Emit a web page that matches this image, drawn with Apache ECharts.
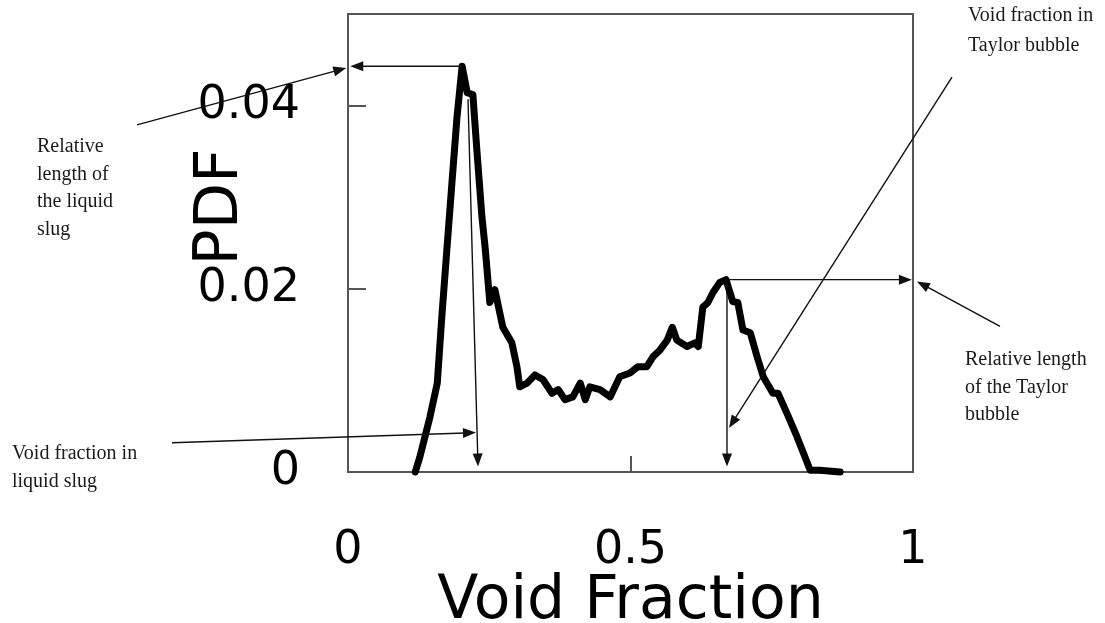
<!DOCTYPE html>
<html><head><meta charset="utf-8">
<script src="https://cdn.jsdelivr.net/npm/echarts@6/dist/echarts.min.js"></script>
<style>html,body{margin:0;padding:0;background:#fff}#c{width:1105px;height:623px}</style>
</head><body><div id="c"></div>
<script>
// Void fraction (x) and PDF (y)
const voidFraction = [0.119,0.127,0.145,0.158,0.166,0.175,0.184,0.193,0.202,0.211,0.221,0.228,0.237,0.243,0.251,0.260,0.274,0.290,0.299,0.304,0.317,0.331,0.345,0.361,0.372,0.384,0.398,0.411,0.420,0.428,0.446,0.464,0.481,0.499,0.513,0.529,0.540,0.552,0.565,0.574,0.582,0.600,0.614,0.620,0.628,0.637,0.646,0.658,0.669,0.681,0.690,0.699,0.712,0.724,0.735,0.752,0.761,0.777,0.795,0.809,0.818,0.835,0.871];
const pdf = [0,0.0016,0.0060,0.0097,0.0169,0.0243,0.0316,0.0388,0.0443,0.0414,0.0412,0.0352,0.0279,0.0243,0.0185,0.0199,0.0158,0.0141,0.0115,0.0093,0.0097,0.0106,0.0101,0.0086,0.0090,0.0079,0.0082,0.0097,0.0079,0.0093,0.0090,0.0082,0.0104,0.0108,0.0115,0.0115,0.0126,0.0133,0.0144,0.0158,0.0144,0.0137,0.0141,0.0137,0.0180,0.0185,0.0196,0.0207,0.0210,0.0186,0.0185,0.0155,0.0152,0.0126,0.0104,0.0086,0.0086,0.0064,0.0038,0.0016,0.0002,0.0002,0];
const xTickLabels = ['0','0.5','1'];
const yTickLabels = ['0','0.02','0.04'];

// annotation arrows: [from, to] in data coordinates (may extend beyond the plot)
const arrowFrom = [[0.2018,0.0443],[-0.3735,0.0379],[0.2124,0.0407],[-0.3115,0.0032],[0.6708,0.0210],[1.154,0.0159],[0.6708,0.0210],[1.069,0.0431]];
const arrowTo   = [[0.004,0.0443],[-0.003,0.0441],[0.2301,0.0006],[0.2265,0.0043],[0.998,0.0210],[1.007,0.0208],[0.6708,0.0006],[0.6743,0.0048]];
const noteTexts = ['Relative\nlength of\nthe liquid\nslug','Void fraction in\nliquid slug','Void fraction in\nTaylor bubble','Relative length\nof the Taylor\nbubble'];

const chart = echarts.init(document.getElementById('c'));
const axisColor = '#555';
const option = {
  animation: false,
  grid: {left: 348, top: 14, right: 192, bottom: 151, show: true, borderColor: axisColor, borderWidth: 2,
    containLabel: false, outerBoundsMode: 'none'},
  xAxis: {
    type: 'value', min: 0, max: 1, interval: 0.5,
    name: 'Void Fraction', nameLocation: 'middle', nameGap: 100, nameMoveOverlap: false,
    nameTextStyle: {fontFamily: 'DejaVu Sans', fontSize: 60, color: '#000'},
    axisLine: {show: true, lineStyle: {color: axisColor, width: 2}},
    axisTick: {show: true, inside: true, length: 16, lineStyle: {color: axisColor, width: 2}},
    axisLabel: {margin: 56, fontFamily: 'DejaVu Sans', fontSize: 46, color: '#000',
      formatter: (v) => xTickLabels[Math.round(v / 0.5)] || ''},
    splitLine: {show: false}
  },
  yAxis: {
    type: 'value', min: 0, max: 0.05, interval: 0.02,
    name: 'PDF', nameLocation: 'middle', nameGap: 97, nameMoveOverlap: false,
    nameTextStyle: {fontFamily: 'DejaVu Sans', fontSize: 60, color: '#000', padding: [0, 0, 0, 72]},
    axisLine: {show: true, lineStyle: {color: axisColor, width: 2}},
    axisTick: {show: true, inside: true, length: 18, lineStyle: {color: axisColor, width: 2}},
    axisLabel: {margin: 48, fontFamily: 'DejaVu Sans', fontSize: 46, color: '#000', showMaxLabel: false,
      padding: [10, 0, 0, 0],
      formatter: (v) => { const i = Math.round(v / 0.02); return Math.abs(v - i * 0.02) < 1e-9 ? (yTickLabels[i] || '') : ''; }},
    splitLine: {show: false}
  },
  series: [{
    type: 'line', symbol: 'none', clip: false,
    data: voidFraction.map((x, i) => [x, pdf[i]]),
    lineStyle: {color: '#000', width: 7, join: 'round', cap: 'round'}
  }]
};
chart.setOption(option);

const toPx = (p) => chart.convertToPixel({gridIndex: 0}, p);
const g = [];
arrowFrom.forEach((f, i) => {
  const p0 = toPx(f), p1 = toPx(arrowTo[i]);
  const dx = p1[0] - p0[0], dy = p1[1] - p0[1], L = Math.hypot(dx, dy);
  const ux = dx / L, uy = dy / L, hl = 13, hw = 5;
  const bx = p1[0] - ux * hl, by = p1[1] - uy * hl;
  g.push({type: 'line', z: 100, shape: {x1: p0[0], y1: p0[1], x2: bx + ux * 2, y2: by + uy * 2}, style: {stroke: '#111', lineWidth: 1.4}});
  g.push({type: 'polygon', z: 100, shape: {points: [[p1[0], p1[1]], [bx - uy * hw, by + ux * hw], [bx + uy * hw, by - ux * hw]]}, style: {fill: '#111'}});
});
const notePos = [[37, 133, 27.5], [12, 439, 28.5], [968, 1, 30], [965, 346, 27.5]];
noteTexts.forEach((t, i) => {
  g.push({type: 'text', z: 100, left: notePos[i][0], top: notePos[i][1],
    style: {text: t, font: '20px "Liberation Serif"', fill: '#1a1a1a', lineHeight: notePos[i][2]}});
});
chart.setOption({graphic: g});
</script>
</body></html>
